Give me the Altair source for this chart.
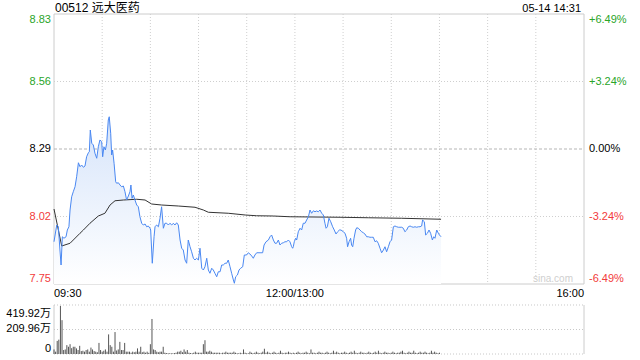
import altair as alt
import pandas as pd

FONT = "Liberation Sans, Arial, Noto Sans CJK SC, sans-serif"
RED = "#f23b3b"
GREEN = "#2aa52a"

title_text = "00512 远大医药"
time_text = "05-14 14:31"
watermark = "sina.com"
prev_close = 8.29
price_ticks = [7.75, 8.02, 8.29, 8.56, 8.83]
price_labels = ["7.75", "8.02", "8.29", "8.56", "8.83"]
pct_labels = ["-6.49%", "-3.24%", "0.00%", "+3.24%", "+6.49%"]
tick_colors = [RED, RED, "#000000", GREEN, GREEN]
vol_ticks = [0, 209.96, 419.92]
vol_tick_labels = ["0", "209.96万", "419.92万"]
x_tick_min = [0, 150, 330]
x_tick_labels = ["09:30", "12:00/13:00", "16:00"]
grid_min = [30, 60, 90, 120, 150, 180, 210, 240, 270, 300]

# minutes since 09:30 (trading time) and price
time_min = [0, 1.7, 2.7, 3.7, 4.4, 5.2, 6.2, 7.5, 8.3, 9.3,
            10.0, 11.0, 12.0, 13.1, 14.1, 15.2, 16.2, 17.2, 18.3, 19.3,
            20.3, 21.4, 22.0, 22.6, 23.5, 24.5, 25.5, 26.6, 27.6, 28.6,
            29.7, 30.3, 31.1, 32.0, 32.8, 33.8, 34.4, 35.3, 35.9, 36.5,
            37.4, 38.4, 39.0, 40.1, 41.1, 42.1, 43.2, 44.2, 45.2, 46.3,
            47.3, 47.9, 48.6, 49.4, 50.4, 51.5, 52.5, 53.5, 54.6, 55.6,
            56.7, 57.7, 58.7, 59.8,
            60.2, 61.2, 62.3, 62.9, 63.9, 65.0, 66.0, 67.0, 68.1, 69.1,
            70.2, 71.2, 72.2, 73.3, 74.3, 75.3, 76.4, 77.4, 78.5, 79.5,
            80.5, 81.6, 82.6, 83.6, 84.7, 85.7, 86.8, 87.8, 88.8, 89.9,
            90.9, 92.0, 93.0, 94.0, 95.1, 96.1, 97.1, 98.2, 99.2, 100.2,
            101.3, 102.3, 103.4, 104.4, 105.4, 106.5, 107.5, 108.5, 109.6, 110.6,
            111.7, 112.3, 113.1, 114.2, 115.2, 116.2, 117.5, 118.5,
            119.9, 121.0, 122.0, 123.1, 124.1, 125.1, 126.2, 128.3, 129.9, 130.8,
            132.0, 133.5, 134.5, 135.5, 136.6, 137.6, 138.6, 139.7, 140.7, 141.7,
            142.8, 143.8, 144.9, 145.9, 146.9, 148.0, 148.6, 149.0, 149.6, 150.5,
            151.1, 152.1, 153.2, 154.2, 155.2, 156.3, 157.3, 158.4, 159.4, 160.4,
            161.5, 162.5, 163.5, 164.6, 165.6, 166.7, 167.7, 168.7, 169.4, 170.2,
            171.2, 172.3, 173.5, 174.5, 175.6, 176.6, 177.7,
            178.7, 180.1, 181.2, 182.2, 182.8, 183.7, 184.7, 185.3, 186.0, 186.8,
            187.8, 188.5, 189.5, 190.5, 191.6, 192.6, 193.6, 194.7, 195.7, 196.7,
            197.8, 198.8, 199.9, 200.9, 201.9, 203.0, 204.0, 205.1, 206.1, 207.1,
            208.2, 209.2, 210.2, 211.3, 212.3, 213.4, 214.4, 215.4, 216.5, 217.5,
            218.5, 219.6, 220.6, 221.7, 222.7, 223.7, 224.8, 225.8, 226.9, 227.9,
            228.9, 229.5, 230.6, 231.4, 232.5, 233.5, 234.5, 235.6, 236.4, 237.2,
            238.3, 239.3, 240.0, 241.0]
price = [7.919, 7.986, 7.979, 7.886, 7.826, 7.939, 7.933, 7.939, 7.966, 7.979,
         8.046, 8.099, 8.119, 8.139, 8.179, 8.235, 8.219, 8.226, 8.217, 8.222,
         8.259, 8.275, 8.279, 8.366, 8.313, 8.306, 8.273, 8.253, 8.299, 8.326,
         8.319, 8.259, 8.299, 8.286, 8.313, 8.406, 8.419, 8.353, 8.266, 8.286,
         8.233, 8.159, 8.153, 8.155, 8.146, 8.139, 8.142, 8.119, 8.086, 8.102,
         8.119, 8.146, 8.093, 8.106, 8.086, 8.066, 8.059, 8.019, 7.993, 7.986,
         7.990, 7.979, 7.982, 7.973,
         7.966, 7.833, 7.939, 7.979, 7.986, 7.979, 8.013, 8.059, 7.973, 7.993,
         7.993, 7.986, 7.993, 7.986, 7.993, 7.986, 7.995, 7.986, 7.926, 7.893,
         7.886, 7.846, 7.833, 7.926, 7.899, 7.879, 7.853, 7.846, 7.853, 7.846,
         7.893, 7.813, 7.806, 7.819, 7.853, 7.806, 7.793, 7.813, 7.806, 7.793,
         7.779, 7.799, 7.799, 7.826, 7.826, 7.833, 7.833, 7.846, 7.819, 7.793,
         7.766, 7.753, 7.779, 7.786, 7.806, 7.813, 7.819, 7.866,
         7.866, 7.875, 7.870, 7.862, 7.853, 7.866, 7.875, 7.875, 7.875, 7.906,
         7.919, 7.926, 7.939, 7.946, 7.926, 7.913, 7.913, 7.926, 7.906, 7.913,
         7.915, 7.919, 7.919, 7.926, 7.919, 7.899, 7.893, 7.899, 7.919, 7.933,
         7.926, 7.959, 7.973, 7.966, 7.993, 7.993, 8.006, 8.019, 8.046, 8.033,
         8.043, 8.039, 8.042, 8.039, 8.046, 8.033, 8.026, 7.993, 7.973, 7.979,
         8.013, 7.999, 7.979, 7.966, 7.950, 7.959, 7.966,
         7.966, 7.959, 7.953, 7.933, 7.899, 7.919, 7.933, 7.906, 7.899, 7.933,
         7.966, 7.975, 7.973, 7.966, 7.959, 7.955, 7.950, 7.939, 7.939, 7.937,
         7.937, 7.937, 7.919, 7.923, 7.913, 7.893, 7.875, 7.886, 7.899, 7.879,
         7.899, 7.919, 7.926, 7.979, 7.982, 7.979, 7.977, 7.977, 7.977, 7.973,
         7.959, 7.966, 7.979, 7.982, 7.979, 7.977, 7.979, 7.977, 7.979, 7.979,
         7.982, 8.006, 7.999, 7.946, 7.953, 7.966, 7.953, 7.926, 7.939, 7.933,
         7.966, 7.953, 7.946, 7.939]

avg_min = [0, 4.8, 10.0, 16.2, 18.3, 22.4, 27.6, 31.7, 34.9, 38.0, 43.2, 51.5,
           56.7, 60.8, 67.0, 77.4, 87.8, 93.0, 96.1, 108.5, 119.1, 126.2,
           136.6, 147.0, 178.1, 195.7, 216.5, 241.0]
avg_price = [8.050, 7.902, 7.913, 7.953, 7.966, 7.993, 8.022, 8.033, 8.066,
             8.083, 8.086, 8.089, 8.086, 8.070, 8.066, 8.062, 8.057, 8.046,
             8.037, 8.033, 8.026, 8.023, 8.022, 8.019, 8.017, 8.015, 8.013,
             8.009]

# volume per minute (万股), minutes 0..240
volume = [39, 20, 112, 123, 412, 290, 34, 39, 76, 62,
          84, 50, 62, 62, 48, 34, 70, 25, 28, 20,
          34, 39, 20, 55, 39, 25, 20, 15, 95, 34,
          20, 28, 39, 20, 168, 76, 62, 20, 188, 30,
          39, 104, 34, 34, 95, 20, 20, 20, 11, 20,
          15, 20, 48, 20, 62, 15, 20, 11, 20, 10,
          84, 300, 39, 34, 20, 15, 20, 20, 62, 11,
          8, 6, 6, 6, 6, 8, 11, 20, 20, 28,
          15, 39, 20, 34, 11, 8, 6, 11, 20, 11,
          11, 11, 11, 84, 118, 20, 20, 28, 20, 11,
          11, 11, 11, 11, 6, 11, 11, 20, 11, 11,
          11, 11, 20, 11, 6, 6, 11, 6, 39, 11,
          6, 6, 20,
          11, 6, 11, 20, 11, 6, 11, 20,
          45, 11, 20, 11, 6, 11, 20, 11, 6, 11,
          28, 11, 6, 11, 11, 20, 11, 6, 11, 6,
          11, 20, 11, 6, 11, 11, 20, 11, 6, 39,
          11, 11, 6, 11, 20, 11, 11, 6, 11, 20,
          11, 6, 11, 28, 11, 20, 11, 6, 11, 11,
          20, 11, 6, 11, 20, 11, 28, 11, 6, 11,
          20, 11, 11, 6, 11, 20, 11, 6, 11, 20,
          11, 28, 11, 6, 11, 20, 11, 11, 6, 11,
          20, 11, 6, 11, 11, 20, 28, 11, 6, 11,
          20, 11, 11, 28, 11, 6, 11, 20, 11, 11,
          20, 11, 6, 11, 28, 11, 20, 11, 6, 11]
vol_min = list(range(len(volume)))

W, H = 530, 340
PRICE_H = 270

price_df = pd.DataFrame({"t": time_min, "p": price})
avg_df = pd.DataFrame({"t": avg_min, "p": avg_price})
vol_df = pd.DataFrame({"t": vol_min, "v": volume})
grid_df = pd.DataFrame({"t": grid_min})
hgrid_df = pd.DataFrame({"p": [8.02, 8.56]})
mid_df = pd.DataFrame({"p": [prev_close]})
tick_df = pd.DataFrame({"p": price_ticks, "plab": price_labels,
                        "pct": pct_labels, "col": tick_colors})
xtick_df = pd.DataFrame({"t": x_tick_min, "label": x_tick_labels})
vtick_df = pd.DataFrame({"v": vol_ticks, "label": vol_tick_labels})
vedge_df = pd.DataFrame({"v0": [0], "v1": [vol_ticks[-1]]})
one = pd.DataFrame({"a": [0]})

xs = alt.Scale(domain=[0, 330], nice=False, zero=False)
ps = alt.Scale(domain=[7.47, 8.83], nice=False, zero=False)
vs = alt.Scale(domain=[0, 2913.7], nice=False, zero=True)

frame = alt.Chart(one).mark_rect(fillOpacity=0, stroke="#cccccc", strokeWidth=1).encode(
    x=alt.value(0), x2=alt.value(W), y=alt.value(0), y2=alt.value(PRICE_H))

vgrid = alt.Chart(grid_df).mark_rule(color="#cfcfcf", strokeDash=[1, 2], strokeWidth=1).encode(
    x=alt.X("t:Q", scale=xs, axis=None), y=alt.value(0), y2=alt.value(PRICE_H))

hgrid = alt.Chart(hgrid_df).mark_rule(color="#cfcfcf", strokeDash=[1, 2], strokeWidth=1).encode(
    y=alt.Y("p:Q", scale=ps, axis=None), x=alt.value(0), x2=alt.value(W))

midline = alt.Chart(mid_df).mark_rule(color="#b5b5b5", strokeDash=[3, 2], strokeWidth=1).encode(
    y=alt.Y("p:Q", scale=ps, axis=None), x=alt.value(0), x2=alt.value(W))

area = alt.Chart(price_df).mark_area(
    color=alt.Gradient(gradient="linear",
                       stops=[alt.GradientStop(color="#ffffff", offset=0),
                              alt.GradientStop(color="#d6e4fa", offset=1)],
                       x1=1, x2=1, y1=1, y2=0)
).encode(x=alt.X("t:Q", scale=xs, axis=None), y=alt.Y("p:Q", scale=ps, axis=None),
         y2=alt.datum(7.75))

line = alt.Chart(price_df).mark_line(color="#4a88f2", strokeWidth=1).encode(
    x=alt.X("t:Q", scale=xs, axis=None), y=alt.Y("p:Q", scale=ps, axis=None))

avg = alt.Chart(avg_df).mark_line(color="#333333", strokeWidth=1).encode(
    x=alt.X("t:Q", scale=xs, axis=None), y=alt.Y("p:Q", scale=ps, axis=None))


def tick_text(df, field, align, baseline, xpos):
    return alt.Chart(df).mark_text(align=align, baseline=baseline, font=FONT, fontSize=11).encode(
        y=alt.Y("p:Q", scale=ps, axis=None), x=alt.value(xpos),
        text=f"{field}:N", color=alt.Color("col:N", scale=None))


top_df = tick_df.iloc[[4]]
mid_ticks_df = tick_df.iloc[[1, 2, 3]]
bot_df = tick_df.iloc[[0]]
left_labels = [tick_text(top_df, "plab", "right", "top", -3),
               tick_text(mid_ticks_df, "plab", "right", "middle", -3),
               tick_text(bot_df, "plab", "right", "bottom", -3)]
right_labels = [tick_text(top_df, "pct", "left", "top", W + 5),
                tick_text(mid_ticks_df, "pct", "left", "middle", W + 5),
                tick_text(bot_df, "pct", "left", "bottom", W + 5)]


def x_text(df, align):
    return alt.Chart(df).mark_text(align=align, baseline="alphabetic", font=FONT,
                                   fontSize=11, color="#000").encode(
        x=alt.X("t:Q", scale=xs, axis=None), y=alt.value(PRICE_H + 13), text="label:N")


x_labels = [x_text(xtick_df.iloc[[0]], "left"),
            x_text(xtick_df.iloc[[1]], "center"),
            x_text(xtick_df.iloc[[2]], "right")]

title = alt.Chart(one).mark_text(align="left", baseline="alphabetic", font=FONT,
                                 fontSize=12, color="#000", text=title_text).encode(
    x=alt.value(1), y=alt.value(-2))
timestamp = alt.Chart(one).mark_text(align="right", baseline="alphabetic", font=FONT,
                                     fontSize=11, color="#000", text=time_text).encode(
    x=alt.value(527), y=alt.value(-2))
wm = alt.Chart(one).mark_text(align="left", baseline="alphabetic", font=FONT,
                              fontSize=10, color="#cfcfcf", text=watermark).encode(
    x=alt.value(479), y=alt.value(PRICE_H - 2))

price_layer = alt.layer(frame, vgrid, hgrid, midline, area, avg, line,
                        *left_labels, *right_labels, *x_labels, wm, title, timestamp)

vbars = alt.Chart(vol_df).mark_rule(color="#555555", strokeWidth=1).encode(
    x=alt.X("t:Q", scale=xs, axis=None), y=alt.Y("v:Q", scale=vs, axis=None), y2=alt.datum(0))
vgridlines = alt.Chart(vtick_df).mark_rule(color="#c8c8c8", strokeDash=[1, 2], strokeWidth=1).encode(
    y=alt.Y("v:Q", scale=vs, axis=None), x=alt.value(0), x2=alt.value(W))


def v_text(df, baseline, dy):
    return alt.Chart(df).mark_text(align="right", baseline=baseline, dy=dy, font=FONT,
                                   fontSize=11, color="#000").encode(
        y=alt.Y("v:Q", scale=vs, axis=None), x=alt.value(-3), text="label:N")


vlabels = [v_text(vtick_df.iloc[[2]], "top", 3),
           v_text(vtick_df.iloc[[1]], "middle", 0),
           v_text(vtick_df.iloc[[0]], "bottom", 0)]
vleft = alt.Chart(vedge_df).mark_rule(color="#cccccc").encode(
    x=alt.value(0), y=alt.Y("v0:Q", scale=vs, axis=None), y2="v1:Q")
vright = alt.Chart(vedge_df).mark_rule(color="#cccccc").encode(
    x=alt.value(W), y=alt.Y("v0:Q", scale=vs, axis=None), y2="v1:Q")
vol_layer = alt.layer(vgridlines, vleft, vright, vbars, *vlabels)

chart = alt.layer(price_layer, vol_layer).resolve_scale(
    y="independent"
).properties(
    width=W, height=H,
    autosize=alt.AutoSizeParams(type="none"),
    padding={"left": 54, "top": 14, "right": 56, "bottom": 6},
    background="white",
).configure_view(stroke=None)

chart.save("out.html", embed_options={"renderer": "svg", "actions": False})
